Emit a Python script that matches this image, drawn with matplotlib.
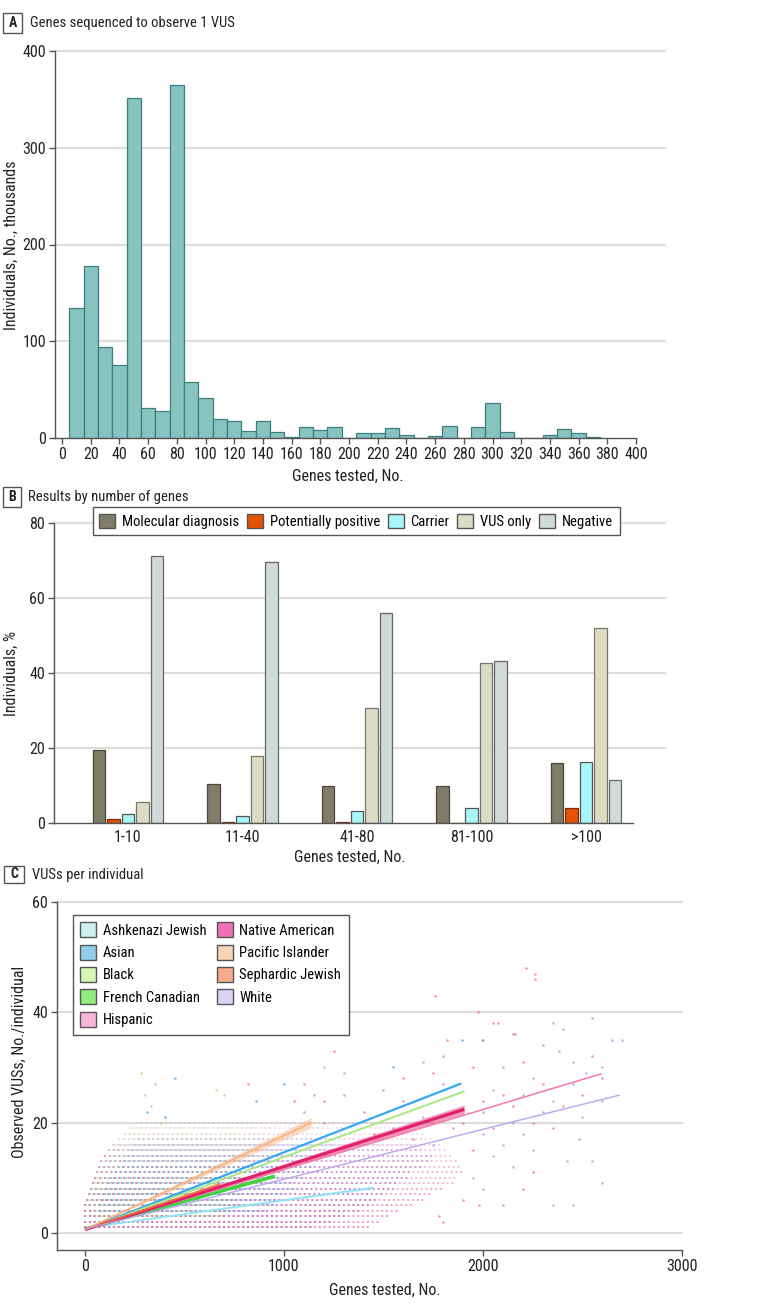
import matplotlib
matplotlib.use("Agg")
import matplotlib.pyplot as plt
from matplotlib import font_manager as fm
from matplotlib.patches import Rectangle, Patch
from matplotlib.lines import Line2D
import matplotlib.transforms as mtransforms
import numpy as np


def have_font(name):
    try:
        fm.findfont(fm.FontProperties(family=name), fallback_to_default=False)
        return True
    except Exception:
        return False


narrow = [f for f in ['Liberation Sans Narrow', 'Roboto Condensed', 'Noto Sans Condensed',
                      'Open Sans Condensed', 'DejaVu Sans Condensed'] if have_font(f)]
if narrow:
    FONT = narrow[0]
    FS = 10.5
else:
    FONT = 'Roboto'
    FS = 9.0
TFS = FS + 1.0
plt.rcParams['font.family'] = [FONT, 'DejaVu Sans']

# ---------------- Panel A data ----------------
hist_bin_centers = [10, 20, 30, 40, 50, 60, 70, 80, 90, 100, 110, 120, 130, 140, 150,
                    160, 170, 180, 190, 200, 210, 220, 230, 240, 250, 260, 270, 280,
                    290, 300, 310, 320, 330, 340, 350, 360, 370]
hist_counts = [134, 178, 94, 75, 351, 31, 28, 365, 58, 41.5, 20, 17.5, 7.5, 18, 6.5,
               1.5, 11.5, 8.5, 11.5, 0, 5.5, 4.8, 10, 2.7, 0, 2.4, 12, 0,
               11.5, 36.5, 6, 0, 0, 3.4, 9.6, 5.5, 1.4]
hist_xticks = list(range(0, 401, 20))
hist_yticks = [0, 100, 200, 300, 400]

# ---------------- Panel B data ----------------
categories = ['1-10', '11-40', '41-80', '81-100', '>100']
result_names = ['Molecular diagnosis', 'Potentially positive', 'Carrier', 'VUS only', 'Negative']
molecular = [19.4, 10.5, 9.8, 9.9, 16.0]
potentially = [1.1, 0.3, 0.2, 0.1, 3.9]
carrier = [2.4, 1.8, 3.1, 4.1, 16.3]
vus_only = [5.6, 17.8, 30.7, 42.8, 52.1]
negative = [71.3, 69.5, 56.0, 43.1, 11.6]
result_yticks = [0, 20, 40, 60, 80]

# ---------------- Panel C data ----------------
groups = ['Ashkenazi Jewish', 'Asian', 'Black', 'French Canadian', 'Hispanic',
          'Native American', 'Pacific Islander', 'Sephardic Jewish', 'White']
fit_x_end = [1448, 1890, 1906, 953, 2597, 1906, 1137, 680, 2686]
fit_y_start = [0.9, 0.6, 0.6, 0.7, 0.6, 0.6, 0.6, 0.6, 0.7]
fit_y_end = [8.2, 27.1, 25.7, 10.3, 28.9, 22.4, 20.0, 8.8, 25.0]
fit_ci_end = [0.25, 0.15, 0.15, 0.35, 0.08, 0.8, 0.9, 0.5, 0.05]

# dense rows of observations (integer VUS counts): x-range per row
white_rows = list(range(1, 17))
white_row_start = [0, 0, 0, 0, 0, 10, 20, 30, 40, 50, 60, 70, 80, 100, 120, 150]
white_row_end = [1150, 1250, 1320, 1380, 1430, 1470, 1500, 1550, 1580, 1620, 1650,
                 1700, 1720, 1750, 1700, 1650]
hisp_rows = list(range(1, 21))
hisp_row_start = [0, 0, 0, 0, 0, 10, 20, 30, 40, 50, 60, 70, 80, 100, 120, 140, 170,
                  200, 230, 260]
hisp_row_end = [1420, 1480, 1530, 1580, 1640, 1700, 1750, 1800, 1850, 1880, 1900,
                1900, 1870, 1850, 1820, 1800, 1760, 1700, 1650, 1550]
black_rows = list(range(3, 21))
black_row_start = [40, 30, 20, 20, 30, 40, 50, 60, 80, 100, 120, 140, 160, 180, 200,
                   220, 240, 260]
black_row_end = [700, 720, 740, 760, 780, 800, 800, 820, 820, 840, 840, 860, 860,
                 880, 880, 900, 900, 900]
asian_rows = list(range(4, 18))
asian_row_start = [80, 80, 90, 100, 110, 120, 130, 150, 170, 190, 210, 230, 250, 270]
asian_row_end = [900, 950, 1000, 1000, 1050, 1050, 1100, 1100, 1150, 1150, 1200,
                 1200, 1250, 1250]

sparse_x = [2000, 2050, 2100, 2150, 2200, 2250, 2300, 2350, 2400, 2450, 2500, 2550,
            2600, 2650, 2700, 2050, 2150, 2250, 2350, 2450, 2420, 2480, 2520, 2600,
            2380, 2300, 2200, 2100, 2000, 1950, 2000, 2100, 2350, 2450, 2550, 2600,
            1950, 2000, 2050, 2100, 2150, 2200, 2250, 2300, 2350, 2400, 2500, 2550,
            2600, 2000, 2050, 2150, 2250, 1950, 1900, 1980, 2200, 1800, 1780, 2216,
            2261, 2261, 1759, 1975, 2075, 2161, 1894, 1995, 1819, 1250, 1300, 1550,
            1600, 1700, 1750, 1800, 1200, 280, 350, 300, 330, 310, 450, 400, 380,
            660, 700, 820, 860, 1000, 1100, 1150, 1200, 1050, 1100, 1200, 1300, 1400,
            1500, 1600, 1700, 1800, 1850, 1450, 1550, 1650, 1750, 1850, 1900, 1880]
sparse_y = [22, 26, 30, 12, 18, 28, 34, 38, 37, 31, 21, 39,
            24, 35, 35, 14, 20, 15, 24, 27, 13, 17, 29, 30,
            33, 22, 25, 16, 18, 10, 8, 5, 5, 5, 13, 9,
            30, 35, 38, 25, 36, 31, 20, 27, 19, 23, 25, 32,
            28, 24, 19, 23, 11, 15, 6, 5, 8, 2, 3, 48,
            47, 46, 43, 40, 38, 36, 35, 35, 35, 33, 29, 30,
            28, 31, 29, 32, 30, 29, 27, 25, 23, 22, 28, 21, 20,
            26, 25, 27, 24, 27, 27, 25, 24, 24, 22, 20, 25, 22,
            26, 24, 21, 27, 25, 18, 19, 17, 16, 19, 20, 22]
sparse_group = (['White'] * 36 + ['Hispanic'] * 27 +
                ['Hispanic', 'Hispanic', 'Hispanic', 'Asian', 'White', 'Hispanic',
                 'Hispanic', 'White', 'Asian', 'Hispanic', 'White', 'Hispanic', 'White',
                 'Black', 'Black', 'Black', 'Black', 'Black', 'Asian', 'Asian', 'Asian',
                 'Black', 'Black', 'Black', 'Hispanic', 'Asian', 'Asian', 'Hispanic',
                 'White', 'Hispanic'] +
                ['Hispanic', 'White', 'Hispanic', 'White', 'Hispanic', 'White',
                 'Hispanic', 'White', 'Hispanic', 'White', 'Hispanic', 'White',
                 'Hispanic', 'White', 'Hispanic', 'Hispanic'])
scatter_xticks = [0, 1000, 2000, 3000]
scatter_yticks = [0, 20, 40, 60]

# ---------------- styling ----------------
W, H = 780, 1308
SPINE = '#555555'
GRID = '#dddddd'
TXT = '#222222'

legend_face = {'Ashkenazi Jewish': '#cfeef1', 'Asian': '#93cbea', 'Black': '#d6f7b4',
               'French Canadian': '#93ec7e', 'Hispanic': '#f7b5da',
               'Native American': '#ee72b8', 'Pacific Islander': '#f6d6b4',
               'Sephardic Jewish': '#f7ab8e', 'White': '#ddd2f6'}
line_color = {'Ashkenazi Jewish': '#92e2f2', 'Asian': '#36a8f0', 'Black': '#a6e87e',
              'French Canadian': '#3fd43f', 'Hispanic': '#f27aa9',
              'Native American': '#e0206a', 'Pacific Islander': '#f7b27f',
              'Sephardic Jewish': '#f06545', 'White': '#b9a2f0'}
line_width = {'Ashkenazi Jewish': 1.2, 'Asian': 1.5, 'Black': 1.2, 'French Canadian': 2.4,
              'Hispanic': 1.0, 'Native American': 2.2, 'Pacific Islander': 1.2,
              'Sephardic Jewish': 1.2, 'White': 0.9}
point_color = {'Ashkenazi Jewish': '#7fd8ea', 'Asian': '#2c9be6', 'Black': '#8ee06a',
               'French Canadian': '#3fd43f', 'Hispanic': '#ee5f9e',
               'Native American': '#e0206a', 'Pacific Islander': '#f7a56a',
               'Sephardic Jewish': '#f06545', 'White': '#a58cec'}


def fx(px):
    return px / W


def fy(py):
    return 1 - py / H


def add_axes(left, right, top, bottom):
    return fig.add_axes([fx(left), fy(bottom), (right - left) / W, (bottom - top) / H])


def style_axes(ax):
    for s in ['top', 'right']:
        ax.spines[s].set_visible(False)
    for s in ['left', 'bottom']:
        ax.spines[s].set_color(SPINE)
        ax.spines[s].set_linewidth(1.0)
    ax.tick_params(colors=SPINE, labelcolor=TXT, labelsize=TFS, length=4.5, width=1.0, pad=2)


def hgrid(ax, yvals, xend):
    trans = mtransforms.blended_transform_factory(ax.transAxes, ax.transData)
    for y in yvals:
        ax.add_line(Line2D([0, xend], [y, y], transform=trans, color=GRID, lw=1.5,
                           zorder=0, clip_on=False))


def panel_title(letter, text, box_l, box_t, box_r, box_b, text_x):
    fig.patches.append(Rectangle((fx(box_l), fy(box_b)), (box_r - box_l) / W,
                                 (box_b - box_t) / H, transform=fig.transFigure,
                                 facecolor='white', edgecolor=SPINE, lw=1.0))
    cy = (box_t + box_b) / 2
    fig.text(fx((box_l + box_r) / 2), fy(cy), letter, ha='center', va='center',
             fontsize=FS - 0.5, fontweight='bold', color=TXT)
    fig.text(fx(text_x), fy(cy), text, ha='left', va='center', fontsize=FS, color=TXT)


fig = plt.figure(figsize=(W / 100, H / 100), dpi=100)
fig.patch.set_facecolor('white')

# ================= Panel A =================
axA = add_axes(55, 636, 51, 438)
style_axes(axA)
axA.bar(hist_bin_centers, hist_counts, width=10, color='#86c3c1', edgecolor='#3e7e7c',
        linewidth=0.9, zorder=2)
axA.set_xlim(-4.9, 400)
axA.set_ylim(0, 400)
axA.set_xticks(hist_xticks)
axA.set_yticks(hist_yticks)
hgrid(axA, hist_yticks[1:], (665 - 55) / 581)
panel_title('A', 'Genes sequenced to observe 1 VUS', 3, 13, 22, 33, 30)
fig.text(fx(348), fy(476), 'Genes tested, No.', ha='center', va='center', fontsize=TFS,
         color=TXT)
fig.text(fx(11), fy(245), 'Individuals, No., thousands', ha='center', va='center',
         rotation=90, fontsize=TFS, color=TXT)

# ================= Panel B =================
axB = add_axes(54, 633, 523, 823)
style_axes(axB)
series = [molecular, potentially, carrier, vus_only, negative]
face = ['#7f7c68', '#e35205', '#a8f6f8', '#dcdcc6', '#cfdad9']
edge = ['#4a4838', '#7a2e08', '#555555', '#777766', '#666666']
xpos = np.arange(len(categories))
step = 0.127
for i, (vals, fc, ec) in enumerate(zip(series, face, edge)):
    axB.bar(xpos + (i - 2) * step, vals, width=0.11, color=fc, edgecolor=ec,
            linewidth=0.9, zorder=2, label=result_names[i])
axB.set_xlim(-0.646, 4.41)
axB.set_ylim(0, 80)
axB.set_yticks(result_yticks)
axB.set_xticks(xpos)
axB.set_xticklabels(categories)
axB.tick_params(axis='x', length=0, pad=5)
hgrid(axB, result_yticks[1:], (665 - 54) / 579)
panel_title('B', 'Results by number of genes', 3, 487, 21, 507, 28)
fig.text(fx(350), fy(857), 'Genes tested, No.', ha='center', va='center', fontsize=TFS,
         color=TXT)
fig.text(fx(11), fy(673), 'Individuals, %', ha='center', va='center', rotation=90,
         fontsize=TFS, color=TXT)
hB = [Patch(facecolor=f, edgecolor=SPINE, lw=1.0) for f in face]
legB = axB.legend(hB, result_names, loc='upper left', ncol=5,
                  bbox_to_anchor=(fx(92.6), fy(507)), bbox_transform=fig.transFigure,
                  fontsize=FS, frameon=True, fancybox=False, framealpha=1,
                  edgecolor=SPINE, borderpad=0.45, handlelength=1.1, handleheight=1.15,
                  handletextpad=0.45, columnspacing=0.55, borderaxespad=0)
legB.get_frame().set_linewidth(1.0)

# ================= Panel C =================
axC = add_axes(57, 682, 902, 1250)
style_axes(axC)
axC.set_xlim(-140.7, 3000)
axC.set_ylim(-3.1, 60)
axC.set_xticks(scatter_xticks)
axC.set_yticks(scatter_yticks)
hgrid(axC, scatter_yticks, 1.0)

dot_style = dict(linestyle=(0, (0.1, 2.2)), dash_capstyle='round', lw=1.5, zorder=1)
row_sets = [('White', white_rows, white_row_start, white_row_end, 0.95),
            ('Hispanic', hisp_rows, hisp_row_start, hisp_row_end, 0.75),
            ('Black', black_rows, black_row_start, black_row_end, 0.7),
            ('Asian', asian_rows, asian_row_start, asian_row_end, 0.55)]
for g, rows, xs, xe, a0 in row_sets:
    for y, x0, x1 in zip(rows, xs, xe):
        fade = max(0.2, a0 * (1 - (y - 1) / 26))
        axC.plot([x0, x1], [y, y], color=point_color[g], alpha=fade, **dot_style)

for g in groups:
    idx = [i for i, sg in enumerate(sparse_group) if sg == g]
    if idx:
        axC.scatter([sparse_x[i] for i in idx], [sparse_y[i] for i in idx], s=3,
                    color=point_color[g], alpha=0.75, linewidths=0, zorder=1)

for i, g in enumerate(groups):
    xs = [0, fit_x_end[i]]
    ys = [fit_y_start[i], fit_y_end[i]]
    ci = [0.05, fit_ci_end[i]]
    axC.fill_between(xs, [ys[0] - ci[0], ys[1] - ci[1]], [ys[0] + ci[0], ys[1] + ci[1]],
                     color=line_color[g], alpha=0.45, linewidth=0, zorder=3)
    axC.plot(xs, ys, color=line_color[g], lw=line_width[g], zorder=4,
             solid_capstyle='butt')

panel_title('C', 'VUSs per individual', 4, 866, 24, 883, 32)
fig.text(fx(385), fy(1290), 'Genes tested, No.', ha='center', va='center', fontsize=TFS,
         color=TXT)
fig.text(fx(19), fy(1062), 'Observed VUSs, No./individual', ha='center', va='center',
         rotation=90, fontsize=TFS, color=TXT)
hC = [Patch(facecolor=legend_face[g], edgecolor=SPINE, lw=1.0) for g in groups]
legC = axC.legend(hC, groups, loc='upper left', ncol=2,
                  bbox_to_anchor=(fx(73), fy(915)), bbox_transform=fig.transFigure,
                  fontsize=FS, frameon=True, fancybox=False, framealpha=1,
                  edgecolor=SPINE, borderpad=0.5, handlelength=1.1, handleheight=1.2,
                  handletextpad=0.45, columnspacing=0.7, labelspacing=0.48,
                  borderaxespad=0)
legC.get_frame().set_linewidth(1.0)

fig.savefig('out.png', dpi=100, facecolor='white')
